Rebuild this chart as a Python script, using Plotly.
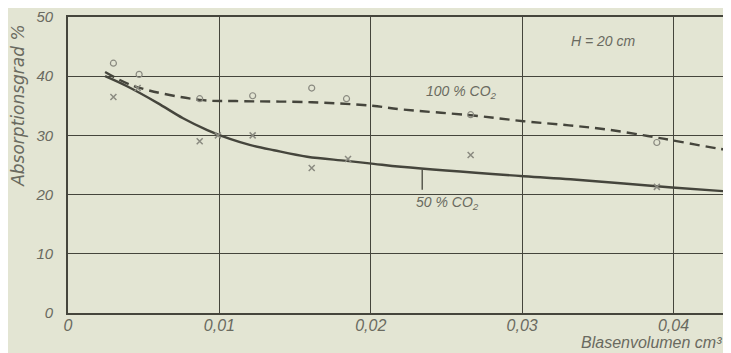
import plotly.graph_objects as go

# axis ticks
x_ticks = [0, 0.01, 0.02, 0.03, 0.04]
x_tick_labels = ["0", "0,01", "0,02", "0,03", "0,04"]
y_ticks = [0, 10, 20, 30, 40, 50]
y_tick_labels = ["0", "10", "20", "30", "40", "50"]

# fitted curve, 100 % CO2 (dashed)
curve100_x = [0.00245, 0.0044, 0.0087, 0.0111, 0.0161, 0.0201, 0.0220, 0.0266,
              0.0301, 0.0331, 0.0356, 0.0383, 0.0403, 0.0429, 0.0438]
curve100_y = [40.7, 38.3, 36.0, 35.8, 35.6, 35.0, 34.4, 33.4,
              32.4, 31.7, 31.0, 29.9, 29.0, 27.8, 27.5]

# fitted curve, 50 % CO2 (solid)
curve50_x = [0.00245, 0.0039, 0.0059, 0.0076, 0.0092, 0.0107, 0.0120, 0.0136,
             0.0158, 0.0184, 0.0202, 0.0220, 0.0301, 0.0332, 0.0399, 0.0438]
curve50_y = [40.0, 38.3, 35.5, 32.9, 30.9, 29.4, 28.4, 27.5,
             26.4, 25.7, 25.2, 24.7, 23.1, 22.6, 21.2, 20.5]

# measured points, 100 % CO2 (circles)
pts100_x = [0.0030, 0.0047, 0.0087, 0.0122, 0.0161, 0.0184, 0.0266, 0.0389]
pts100_y = [42.2, 40.3, 36.2, 36.7, 38.0, 36.2, 33.5, 28.8]

# measured points, 50 % CO2 (crosses)
pts50_x = [0.0030, 0.0046, 0.0087, 0.0099, 0.0122, 0.0161, 0.0185, 0.0266, 0.0389]
pts50_y = [36.5, 38.0, 29.0, 30.0, 30.0, 24.5, 26.0, 26.7, 21.3]

bg = "#e3e5d3"
ink = "#45453c"
txt = "#6a6a60"
mark = "#8a8a80"
font_family = "Liberation Sans"

fig = go.Figure()
fig.add_trace(go.Scatter(x=curve100_x, y=curve100_y, mode="lines",
                         line=dict(color=ink, width=2.4, dash="10px,6px", shape="spline"),
                         hoverinfo="skip"))
fig.add_trace(go.Scatter(x=curve50_x, y=curve50_y, mode="lines",
                         line=dict(color=ink, width=2.4, shape="spline"),
                         hoverinfo="skip"))
fig.add_trace(go.Scatter(x=pts100_x, y=pts100_y, mode="markers",
                         marker=dict(symbol="circle-open", size=6, color=mark,
                                     line=dict(width=1.2, color=mark))))
fig.add_trace(go.Scatter(x=pts50_x, y=pts50_y, mode="markers",
                         marker=dict(symbol="x-thin-open", size=6, color=mark,
                                     line=dict(width=1.5, color=mark))))

# leader line for 50 % label
fig.add_shape(type="line", xref="x", yref="y", x0=0.0234, x1=0.0234, y0=24.2, y1=20.8,
              line=dict(color=ink, width=1.3))

# page body has an 8px margin: figure is sized so that it fills the window
fig.update_layout(
    width=723, height=345,
    margin=dict(l=60, r=0, t=5, b=40),
    paper_bgcolor=bg, plot_bgcolor=bg,
    showlegend=False,
    font=dict(family=font_family, color=txt),
)
fig.update_xaxes(range=[0, 0.0438], tickvals=x_ticks, ticktext=x_tick_labels,
                 showgrid=True, gridcolor=ink, gridwidth=1.4, zeroline=False,
                 showline=True, linecolor=ink, linewidth=1.6, mirror=True,
                 ticks="", tickfont=dict(size=16, style="italic", color=txt),
                 ticklabelstandoff=-3, ticklabeloverflow="allow")
fig.update_yaxes(range=[0, 50], tickvals=y_ticks, ticktext=y_tick_labels,
                 showgrid=True, gridcolor=ink, gridwidth=1.4, zeroline=False,
                 showline=True, linecolor=ink, linewidth=1.6, mirror=False,
                 ticks="", tickfont=dict(size=15, style="italic", color=txt),
                 ticklabelstandoff=10, ticklabeloverflow="allow")

ann_font = dict(family=font_family, size=14, color=txt, style="italic")
common = dict(xref="paper", yref="paper", showarrow=False, xanchor="center", yanchor="middle")
fig.add_annotation(text="H = 20 cm", x=0.807, y=0.92, font=ann_font, **common)
fig.add_annotation(text="100 % CO<sub>2</sub>", x=0.593, y=0.747, font=ann_font, **common)
fig.add_annotation(text="50 % CO<sub>2</sub>", x=0.572, y=0.37, font=ann_font, **common)
fig.add_annotation(text="Absorptionsgrad %", x=-0.0754, y=0.70, textangle=-90,
                   font=dict(family="DejaVu Sans", size=17, color=txt, style="italic"),
                   **common)
fig.add_annotation(text="Blasenvolumen cm³", xref="paper", yref="paper", x=0.99, y=-0.1,
                   xanchor="right", yanchor="middle", showarrow=False,
                   font=dict(family=font_family, size=16, color=txt, style="italic"))

fig.write_html("out.html")
